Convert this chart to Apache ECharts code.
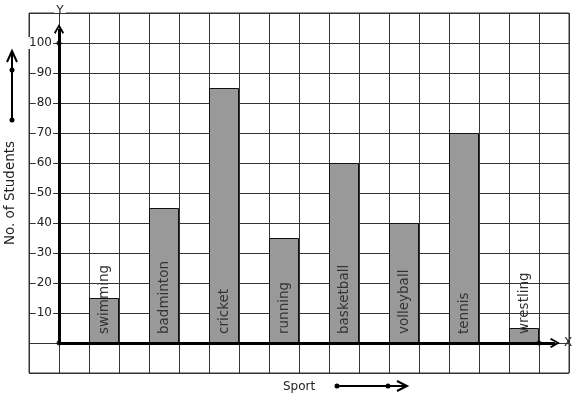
<!DOCTYPE html>
<html>
<head>
<meta charset="utf-8">
<script src="https://cdn.jsdelivr.net/npm/echarts@6/dist/echarts.min.js"></script>
<style>
html, body { margin: 0; padding: 0; background: #fff; }
#chart { width: 577px; height: 399px; }
</style>
</head>
<body>
<div id="chart"></div>
<script>
// data
const sports = ['swimming', 'badminton', 'cricket', 'running', 'basketball', 'volleyball', 'tennis', 'wrestling']
const students = [15, 45, 85, 35, 60, 40, 70, 5]
const yTicks = [10, 20, 30, 40, 50, 60, 70, 80, 90, 100]

const font = 'DejaVu Sans'
const chevron = 'path://M5,0 L10,9 L8.6,10.4 L5,3.4 L1.4,10.4 L0,9 Z'

// one grid square per unit on x, bars sit on every other pair of squares
let barData = sports.map((name, i) => ({ name: name, value: [i * 2 + 1.5, students[i]] }))

var myChart = echarts.init(document.getElementById('chart'), null, { renderer: 'canvas' })
let option = {
  animation: false,
  textStyle: { fontFamily: font },
  grid: {
    left: 29, top: 13, width: 540, height: 360,
    outerBoundsMode: 'none',
    containLabel: false,
    show: true, borderColor: '#333', borderWidth: 1
  },
  xAxis: {
    type: 'value',
    min: -1, max: 17, interval: 1,
    name: 'Sport',
    nameLocation: 'middle',
    nameGap: 8,
    nameTextStyle: { fontFamily: font, fontSize: 12, color: '#222' },
    axisLine: { show: false },
    axisTick: { show: false },
    axisLabel: { show: false },
    splitLine: { show: true, lineStyle: { color: '#333', width: 1 } }
  },
  yAxis: {
    type: 'value',
    min: -10, max: 110, interval: 10,
    offset: -30,
    name: 'No. of Students',
    nameLocation: 'middle',
    nameGap: 40,
    nameTextStyle: { fontFamily: font, fontSize: 13.5, color: '#222' },
    axisLine: { show: false },
    axisTick: { show: false },
    axisLabel: {
      margin: 6,
      fontFamily: font,
      fontSize: 12,
      color: '#222',
      backgroundColor: '#fff',
      padding: [0, 1, 0, 1],
      formatter: (v) => yTicks.includes(v) ? String(v) : ''
    },
    splitLine: { show: true, lineStyle: { color: '#333', width: 1 } }
  },
  series: [
    {
      type: 'bar',
      data: barData,
      barWidth: 30,
      itemStyle: { color: '#999', borderColor: '#111', borderWidth: 1 },
      label: {
        show: true,
        position: 'insideBottom',
        distance: 9,
        rotate: 90,
        align: 'left',
        verticalAlign: 'middle',
        fontFamily: font,
        fontSize: 13.5,
        color: '#333',
        formatter: (p) => p.name
      },
      emphasis: { disabled: true }
    },
    {
      // the heavy X / Y axes with their dots and arrow heads
      type: 'scatter',
      z: 5,
      symbol: 'circle',
      symbolSize: 5,
      itemStyle: { color: '#000' },
      data: [[0, 0], [0, 100], [16, 0]],
      silent: true,
      markLine: {
        silent: true,
        symbol: ['none', chevron],
        symbolSize: [10, 10],
        label: { show: false },
        lineStyle: { color: '#000', width: 3, type: 'solid' },
        emphasis: { disabled: true },
        data: [
          [{ coord: [0, 0] }, { coord: [16.53, 0] }],
          [{ coord: [0, 0] }, { coord: [0, 104.7] }]
        ]
      }
    }
  ],
  graphic: [
    { type: 'text', x: 568, y: 343, style: { text: 'X', font: '12px "DejaVu Sans"', fill: '#222', align: 'center', verticalAlign: 'middle' } },
    { type: 'text', x: 60, y: 11, style: { text: 'Y', font: '12px "DejaVu Sans"', fill: '#222', align: 'center', verticalAlign: 'middle', backgroundColor: '#fff', padding: [0, 2, 0, 2] } },
    // side arrow next to the y title
    { type: 'line', shape: { x1: 12, y1: 120, x2: 12, y2: 52 }, style: { stroke: '#000', lineWidth: 2 } },
    { type: 'circle', shape: { cx: 12, cy: 120, r: 2.5 }, style: { fill: '#000' } },
    { type: 'circle', shape: { cx: 12, cy: 70, r: 2.5 }, style: { fill: '#000' } },
    { type: 'polyline', shape: { points: [[7, 62], [12, 51], [17, 62]] }, style: { stroke: '#000', lineWidth: 2, fill: null } },
    // arrow after the x title
    { type: 'line', shape: { x1: 337, y1: 386, x2: 406, y2: 386 }, style: { stroke: '#000', lineWidth: 2 } },
    { type: 'circle', shape: { cx: 337, cy: 386, r: 2.5 }, style: { fill: '#000' } },
    { type: 'circle', shape: { cx: 388, cy: 386, r: 2.5 }, style: { fill: '#000' } },
    { type: 'polyline', shape: { points: [[397, 381], [407, 386], [397, 391]] }, style: { stroke: '#000', lineWidth: 2, fill: null } }
  ]
}
myChart.setOption(option)
</script>
</body>
</html>
